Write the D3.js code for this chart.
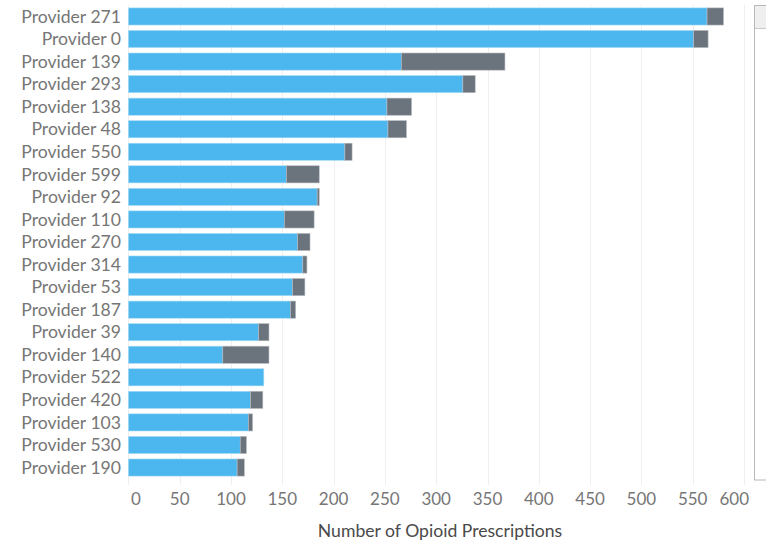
<!DOCTYPE html>
<html lang="en">
<head>
    <meta charset="UTF-8">
    <title>Opioid Prescriptions by Provider</title>
    <script src="https://cdn.jsdelivr.net/npm/d3@7"></script>
    <style type="text/css">
        body { margin: 0; background: #fff; }
        .rowLabel { font-family: Lato, "Noto Sans", sans-serif; font-size: 17.6px; fill: #767676; }
        .tickLabel { font-family: Lato, "Noto Sans", sans-serif; font-size: 17px; fill: #767676; }
        .axisTitle { font-family: Lato, "Noto Sans", sans-serif; font-size: 17.6px; fill: #4a4a4a; }
        .grid { stroke: #efefef; stroke-width: 1; }
    </style>
</head>
<body>
    <svg id="chart"></svg>
    <script>
        // Sizes of the SVG
        var width = 766;
        var height = 543;

        // Data
        var providers = ["Provider 271", "Provider 0", "Provider 139", "Provider 293", "Provider 138",
            "Provider 48", "Provider 550", "Provider 599", "Provider 92", "Provider 110", "Provider 270",
            "Provider 314", "Provider 53", "Provider 187", "Provider 39", "Provider 140", "Provider 522",
            "Provider 420", "Provider 103", "Provider 530", "Provider 190"];
        var blueValues = [564, 551, 266, 326, 252, 253, 211, 154, 184, 152, 165, 170, 160, 158, 127, 92, 132, 119, 117, 109, 106];
        var grayValues = [16, 14, 101, 12, 24, 18, 7, 32, 2, 29, 12, 4, 12, 5, 10, 45, 0, 12, 4, 6, 7];
        var tickValues = [0, 50, 100, 150, 200, 250, 300, 350, 400, 450, 500, 550, 600];

        var blue = "#4cb6ee";
        var gray = "#6b737d";

        var svg = d3.select("#chart")
            .attr("width", width)
            .attr("height", height);

        var x = d3.scaleLinear()
            .domain([0, 600])
            .range([128.4, 744]);

        var y = d3.scaleBand()
            .domain(providers)
            .range([5.2, 478.8])
            .paddingInner(0.24)
            .paddingOuter(0.12);

        // Grid lines
        svg.selectAll("line.grid")
            .data(tickValues)
            .enter()
            .append("line")
            .attr("class", "grid")
            .attr("x1", function (d) { return Math.round(x(d)) + 0.5; })
            .attr("x2", function (d) { return Math.round(x(d)) + 0.5; })
            .attr("y1", 5)
            .attr("y2", 485);

        // Blue segments
        svg.selectAll("rect.blue")
            .data(providers)
            .enter()
            .append("rect")
            .attr("class", "blue")
            .attr("x", x(0))
            .attr("y", function (d) { return y(d); })
            .attr("width", function (d, i) { return x(blueValues[i]) - x(0); })
            .attr("height", y.bandwidth())
            .attr("fill", blue)
            .attr("stroke", "#a8dcf6")
            .attr("stroke-width", 0.6);

        // Gray segments
        svg.selectAll("rect.gray")
            .data(providers)
            .enter()
            .append("rect")
            .attr("class", "gray")
            .attr("x", function (d, i) { return x(blueValues[i]); })
            .attr("y", function (d) { return y(d); })
            .attr("width", function (d, i) { return x(blueValues[i] + grayValues[i]) - x(blueValues[i]); })
            .attr("height", y.bandwidth())
            .attr("fill", gray)
            .attr("stroke", "#b5b9be")
            .attr("stroke-width", function (d, i) { return grayValues[i] > 0 ? 0.6 : 0; });

        // Row labels
        svg.selectAll("text.rowLabel")
            .data(providers)
            .enter()
            .append("text")
            .attr("class", "rowLabel")
            .attr("x", 121)
            .attr("y", function (d) { return y(d) + y.bandwidth() / 2; })
            .attr("dy", "0.35em")
            .attr("text-anchor", "end")
            .text(function (d) { return d; });

        // Tick labels (first and last are nudged inside, like the original)
        svg.selectAll("text.tickLabel")
            .data(tickValues)
            .enter()
            .append("text")
            .attr("class", "tickLabel")
            .attr("x", function (d) {
                if (d === 0) return x(d) + 2.5;
                if (d === 600) return 749;
                return x(d);
            })
            .attr("y", 499)
            .attr("dy", "0.35em")
            .attr("text-anchor", function (d) {
                if (d === 0) return "start";
                if (d === 600) return "end";
                return "middle";
            })
            .text(function (d) { return d; });

        svg.append("text")
            .attr("class", "axisTitle")
            .attr("x", 440)
            .attr("y", 531)
            .attr("dy", "0.35em")
            .attr("text-anchor", "middle")
            .text("Number of Opioid Prescriptions");

        // Scrollbar remnant on the right
        svg.append("rect")
            .attr("x", 754.5)
            .attr("y", 5.5)
            .attr("width", 20)
            .attr("height", 474.5)
            .attr("fill", "#fff")
            .attr("stroke", "#b8b8b8");
        svg.append("rect")
            .attr("x", 755)
            .attr("y", 6)
            .attr("width", 12)
            .attr("height", 22)
            .attr("fill", "#efefef");
        svg.append("line")
            .attr("x1", 755)
            .attr("x2", 766)
            .attr("y1", 28.5)
            .attr("y2", 28.5)
            .attr("stroke", "#c8c8c8");
    </script>
</body>
</html>
